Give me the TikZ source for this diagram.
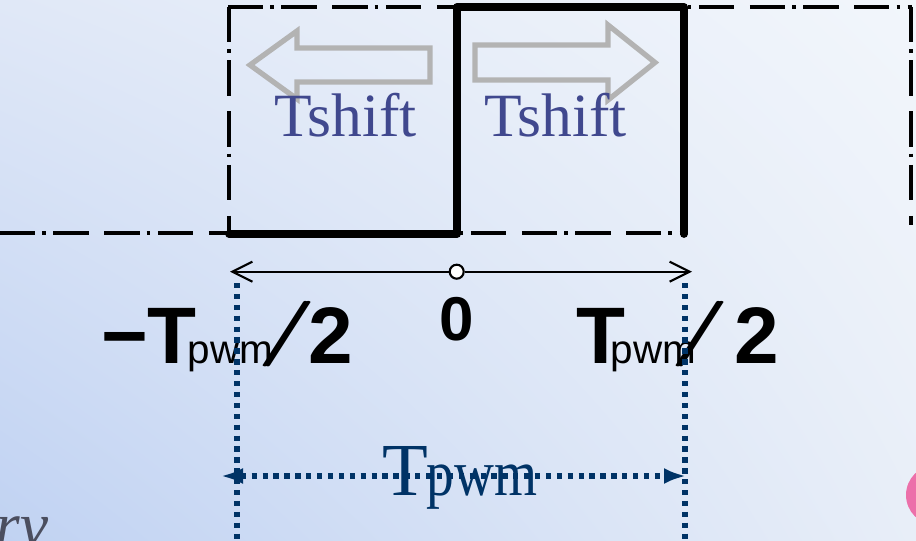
\documentclass[tikz,border=0pt]{standalone}
\usepackage{fontspec}
\setmainfont{Liberation Serif}
\newfontfamily\labelfont{Liberation Sans}
\usetikzlibrary{arrows.meta, positioning, shadings}

\definecolor{navy}{RGB}{0,51,102}
\definecolor{shiftblue}{RGB}{64,72,142}
\definecolor{shiftgray}{RGB}{179,179,179}
\definecolor{blob}{RGB}{236,112,170}
\definecolor{bgUL}{RGB}{224,232,247}
\definecolor{bgUR}{RGB}{242,246,251}
\definecolor{bgLL}{RGB}{192,210,242}
\definecolor{bgLR}{RGB}{232,238,248}
\definecolor{cornertext}{RGB}{75,78,95}

\newcommand{\pwmsub}{{\fontsize{11.5pt}{12pt}\selectfont\mdseries pwm}}
\newcommand{\thinslash}{\raisebox{3.5pt}{\scalebox{1.68}[0.9]{$/$}}}
\newcommand{\slashsym}{\rlap{\thinslash}\kern0.85pt\thinslash}

\tikzstyle{pulse} = [line width=2.2pt, line join=round, line cap=round]
\tikzstyle{dashdot} = [line width=1.1pt, dash pattern=on 10pt off 2pt on 1pt off 2.2pt on 10pt off 4.5pt]
\tikzstyle{shiftarrow} = [draw=shiftgray, line width=1.5pt, line join=miter]
\tikzstyle{shiftlabel} = [text=shiftblue, font=\fontsize{17.5pt}{18pt}\selectfont, inner sep=0pt, anchor=base]
\tikzstyle{axis} = [line width=0.6pt, -{Straight Barb[length=5.7pt, width=5.7pt]}]
\tikzstyle{zeromark} = [circle, draw, fill=white, line width=0.6pt, inner sep=0pt, minimum size=0.14cm]
\tikzstyle{edgelabel} = [font=\labelfont\bfseries\fontsize{22.8pt}{24pt}\selectfont, inner sep=0pt, anchor=base west]
\tikzstyle{zerolabel} = [font=\labelfont\bfseries\fontsize{17.6pt}{18pt}\selectfont, inner sep=0pt, anchor=base]
\tikzstyle{guide} = [navy, line width=1.5pt, dash pattern=on 1.5pt off 1.6pt]
\tikzstyle{dim} = [guide, {Latex[length=0.22cm, width=0.16cm]}-{Latex[length=0.22cm, width=0.16cm]}]
\tikzstyle{periodlabel} = [text=navy, font=\fontsize{21.3pt}{22pt}\selectfont, inner sep=0pt, anchor=base]

\begin{document}
\begin{tikzpicture}
\useasboundingbox (0,0) rectangle (9.16,-5.40);
\clip (0,0) rectangle (9.16,-5.40);
\shade[upper left=bgUL, upper right=bgUR, lower left=bgLL, lower right=bgLR] (0,0) rectangle (9.16,-5.40);
\fill[blob] (9.36,-4.95) circle (0.3);
\node[anchor=base west, inner sep=0pt, text=cornertext, font=\itshape\fontsize{18pt}{18pt}\selectfont] (corner) at (-0.05,-5.46) {rv};

% shifted pulse edges
\draw[dashdot] (0,-2.33) -- (6.84,-2.33);
\draw[dashdot] (2.28,-0.07) -- (9.12,-0.07);
\draw[dashdot] (2.29,-0.07) -- (2.29,-2.33);
\draw[dashdot] (9.11,-0.07) -- (9.11,-2.25);

% shift arrows
\draw[shiftarrow] (4.30,-0.48) -- (2.97,-0.48) -- (2.97,-0.31) -- (2.50,-0.65) -- (2.97,-0.99) -- (2.97,-0.82) -- (4.30,-0.82) -- cycle;
\draw[shiftarrow] (4.75,-0.45) -- (6.08,-0.45) -- (6.08,-0.25) -- (6.55,-0.625) -- (6.08,-1.00) -- (6.08,-0.80) -- (4.75,-0.80) -- cycle;
\node[shiftlabel] (shiftL) at (3.455,-1.37) {Tshift};
\node[shiftlabel] (shiftR) at (5.555,-1.37) {Tshift};

% pulse
\coordinate (p0) at (2.29,-2.34);
\coordinate (p1) at (4.57,-2.34);
\coordinate (p2) at (4.57,-0.07);
\coordinate (p3) at (6.84,-0.07);
\coordinate (p4) at (6.84,-2.34);
\draw[pulse] (p0) -- (p1) -- (p2) -- (p3) -- (p4);

% time axis
\node[zeromark] (zero) at (4.567,-2.717) {};
\coordinate (axL) at (2.30,-2.717);
\coordinate (axR) at (6.92,-2.717);
\draw[axis] (zero) -- (axL);
\draw[axis] (zero) -- (axR);
\node[zerolabel] (origin) at (4.57,-3.40) {0};
\node[edgelabel] (lower) at (1.01,-3.63) {−\kern-0.3pt T\kern-2.4pt\pwmsub\kern-4.6pt\slashsym\kern-2.1pt 2};
\node[edgelabel] (upper) at (5.753,-3.63) {T\kern-4pt\pwmsub\kern-7.2pt\slashsym\kern1.2pt 2};

% period
\coordinate (gLtop) at (2.37,-2.83);
\coordinate (gLbot) at (2.37,-5.45);
\coordinate (gRtop) at (6.85,-2.83);
\coordinate (gRbot) at (6.85,-5.45);
\draw[guide] (gLtop) -- (gLbot);
\draw[guide] (gRtop) -- (gRbot);
\coordinate (dimL) at (2.21,-4.76);
\coordinate (dimR) at (6.86,-4.76);
\draw[dim] (dimL) -- (dimR);
\node[periodlabel] (period) at (4.60,-4.95) {T\kern-0.5pt{\fontsize{18.5pt}{19pt}\selectfont\scalebox{0.85}[1]{pwm}}};
\end{tikzpicture}
\end{document}
